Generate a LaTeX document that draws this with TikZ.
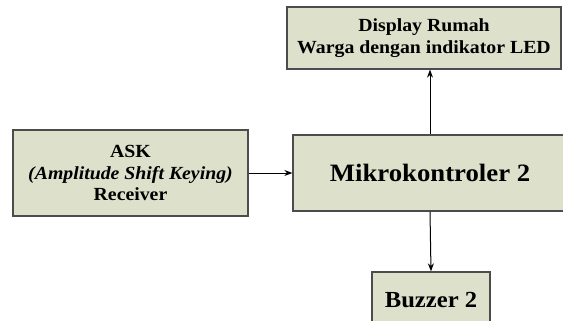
\documentclass[tikz,border=0pt]{standalone}
\usepackage{fontspec}
\setmainfont{Liberation Serif}[FakeStretch=1.07]
\usepackage{tikz}
\usetikzlibrary{positioning,calc,arrows.meta}
\definecolor{blockfill}{RGB}{221,224,202}
\tikzset{BLOCK/.style={rectangle,draw=black!70,line width=1.3pt,fill=blockfill,align=flush center,inner sep=0pt,font=\bfseries}}
\tikzset{ARROW/.style={line width=1pt, -{Stealth[length=8pt,width=6pt]}}}
\tikzset{MIDTEXT/.style={font=\fontsize{18.5}{21.5}\selectfont\bfseries}}

\begin{document}
\begin{tikzpicture}[x=1pt,y=-1pt]

\useasboundingbox (0,0) rectangle (563,321);
\clip (0,0) rectangle (563,321);

\node[BLOCK, MIDTEXT, minimum width=235pt, minimum height=86pt] (n_ask) at (130.5,173) {
    ASK \\
    \textit{(Amplitude Shift Keying)} \\
    Receiver
};
\node[BLOCK, minimum width=274pt, minimum height=76pt, font=\fontsize{25}{29}\selectfont\bfseries] (n_mcu) at (430,173) {Mikrokontroler 2};
\node[BLOCK, MIDTEXT, minimum width=274pt, minimum height=62pt] (n_display) at (424,38) {
    Display Rumah \\
    Warga dengan indikator LED
};
\node[BLOCK, minimum width=118pt, minimum height=56pt, font=\fontsize{23}{27}\selectfont\bfseries] (n_buzzer) at (431,300) {Buzzer 2};

% input from receiver, outputs to display and buzzer
\draw[ARROW] (n_ask.east) -- (n_mcu.west);
\draw[ARROW] (n_mcu.north) -- (n_mcu.north|-n_display.south);
\draw[ARROW] (n_mcu.south) -- (n_buzzer.north);

\end{tikzpicture}
\end{document}
